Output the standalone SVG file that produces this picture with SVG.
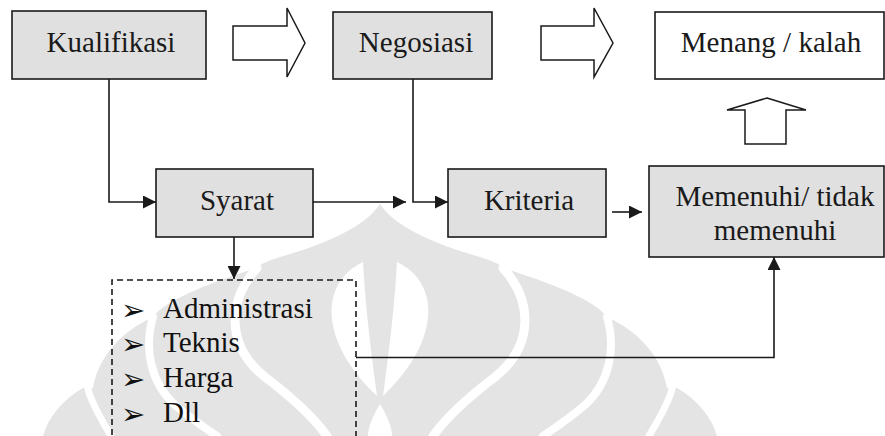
<svg xmlns="http://www.w3.org/2000/svg" width="885" height="436" viewBox="0 0 885 436">
  <style>
    .box { fill: #e0e0e0; stroke: #1a1a1a; stroke-width: 1.6; }
    .plain { fill: #ffffff; stroke: #1a1a1a; stroke-width: 1.6; }
    .hollow { fill: #ffffff; stroke: #1a1a1a; stroke-width: 1.5; stroke-linejoin: miter; }
    .lbl { font-family: 'Liberation Serif', 'DejaVu Serif', serif; font-size: 29px; fill: #1a1a1a; text-anchor: middle; }
    .item { font-family: 'Liberation Serif', 'DejaVu Serif', serif; font-size: 29px; fill: #111111; }
    .bullet { font-family: 'DejaVu Sans', sans-serif; font-size: 29px; fill: #111111; }
    .wire { fill: none; stroke: #1a1a1a; stroke-width: 1.6; }
    .dash { fill: none; stroke: #1a1a1a; stroke-width: 1.6; stroke-dasharray: 6 4; }
    .wm { fill: #e4e4e4; }
    .gap { fill: none; stroke: #ffffff; stroke-linecap: round; }
  </style>
  <defs>
    <marker id="head" markerUnits="userSpaceOnUse" markerWidth="14" markerHeight="13" refX="13" refY="6.5" orient="auto">
      <path d="M0,0 L13,6.5 L0,13 Z" fill="#1a1a1a"/>
    </marker>
    <!-- one half of the background emblem, mirrored for the other half -->
    <g id="wm-half">
      <path class="wm" d="M380,204 C392,222 420,240 480,257 C492,261 500,264 503,268 C560,286 596,302 607,317 C640,332 662,358 667,388 L677,388 C698,400 712,418 717,436 L380,436 Z"/>
      <path class="gap" stroke-width="9" d="M503,268 C532,300 535,345 495,377 C470,396 448,415 433,436"/>
      <path class="gap" stroke-width="8" d="M607,317 C616,348 610,382 585,405 C570,418 555,428 543,436"/>
      <path class="gap" stroke-width="7" d="M672,389 C668,405 658,420 649,436"/>
      <path fill="#ffffff" d="M397,262 C440,282 442,340 383,396 C390,345 395,300 397,262 Z"/>
      <path fill="#ffffff" d="M380,404 C386,414 392,426 392,436 L380,436 Z"/>
    </g>
  </defs>

  <!-- watermark emblem -->
  <g id="watermark">
    <use href="#wm-half"/>
    <use href="#wm-half" transform="matrix(-1 0 0 1 760 0)"/>
  </g>

  <!-- block arrows between stages -->
  <g id="stage-arrows">
    <path class="hollow" d="M233,26 L287,26 L287,8 L305,43 L287,77 L287,60 L233,60 Z"/>
    <path class="hollow" d="M541,26 L594,26 L594,8 L613,43 L594,77 L594,60 L541,60 Z"/>
    <path class="hollow" d="M767,98 L806,110 L786,110 L786,144 L745,144 L745,110 L727,110 Z"/>
  </g>

  <g id="kualifikasi">
    <rect class="box" x="12" y="11" width="194" height="68"/>
    <text class="lbl" x="111" y="52">Kualifikasi</text>
  </g>

  <g id="negosiasi">
    <rect class="box" x="333" y="12" width="159" height="67"/>
    <text class="lbl" x="416" y="52">Negosiasi</text>
  </g>

  <g id="menang-kalah">
    <rect class="plain" x="655" y="12" width="229" height="67"/>
    <text class="lbl" x="771" y="52">Menang / kalah</text>
  </g>

  <g id="syarat">
    <rect class="box" x="156" y="169" width="157" height="68"/>
    <text class="lbl" x="237" y="210">Syarat</text>
  </g>

  <g id="kriteria">
    <rect class="box" x="448" y="169" width="158" height="68"/>
    <text class="lbl" x="529" y="210">Kriteria</text>
  </g>

  <g id="memenuhi">
    <rect class="box" x="649" y="166" width="235" height="91"/>
    <text class="lbl" x="775" y="206">Memenuhi/ tidak</text>
    <text class="lbl" x="775" y="240">memenuhi</text>
  </g>

  <g id="syarat-list">
    <path class="dash" d="M112,445 V280 H356 V445"/>
    <text class="bullet" x="121" y="320">➢</text>
    <text class="item" x="163" y="318">Administrasi</text>
    <text class="bullet" x="121" y="354">➢</text>
    <text class="item" x="163" y="352">Teknis</text>
    <text class="bullet" x="121" y="389">➢</text>
    <text class="item" x="163" y="387">Harga</text>
    <text class="bullet" x="121" y="424">➢</text>
    <text class="item" x="163" y="422">Dll</text>
  </g>

  <g id="connectors">
    <path class="wire" marker-end="url(#head)" d="M109,79 V202 H156"/>
    <path class="wire" marker-end="url(#head)" d="M313,202 H406"/>
    <path class="wire" marker-end="url(#head)" d="M413,79 V202 H448"/>
    <path class="wire" marker-end="url(#head)" d="M612,212 H642"/>
    <path class="wire" marker-end="url(#head)" d="M234,237 V279"/>
    <path class="wire" marker-end="url(#head)" d="M356,357.5 H774 V257"/>
  </g>
</svg>
